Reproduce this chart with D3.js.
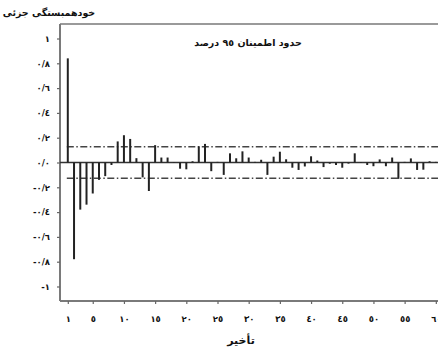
<!DOCTYPE html>
<html>
<head>
<meta charset="utf-8">
<script src="https://cdn.jsdelivr.net/npm/d3@7"></script>
<style>
  html, body { margin: 0; padding: 0; background: #fff; }
  svg { display: block; }
  text { font-family: "DejaVu Sans", "Noto Sans", sans-serif; font-weight: bold; fill: #111; }
</style>
</head>
<body>
<svg id="chart" width="438" height="349"></svg>
<script>
// Partial autocorrelation by lag
const lags = d3.range(1, 61);
const pacf = [
  0.84, -0.78, -0.38, -0.34, -0.25, -0.14, -0.11, -0.02, 0.17, 0.22,
  0.19, 0.035, -0.12, -0.23, 0.14, 0.04, 0.04, 0.003, -0.05, -0.055,
  0.01, 0.13, 0.15, -0.07, 0.005, -0.10, 0.074, 0.034, 0.09, 0.04,
  0.005, 0.022, -0.10, 0.047, 0.087, 0.026, -0.042, -0.06, -0.032, 0.05,
  0.016, -0.037, -0.01, -0.02, -0.042, -0.009, 0.074, 0.004, -0.02, -0.03,
  0.025, -0.03, 0.04, -0.132, 0.005, 0.033, -0.06, -0.058, 0.01, 0.005
];
// 95% confidence limits
const confLimits = [0.127, -0.127];

const yTicks = [1, 0.8, 0.6, 0.4, 0.2, 0, -0.2, -0.4, -0.6, -0.8, -1];
const yTickLabels = ["١", "٠/٨", "٠/٦", "٠/٤", "٠/٢", "٠/٠", "-٠/٢", "-٠/٤", "-٠/٦", "-٠/٨", "-١"];
const xTicks = [1, 5, 10, 15, 20, 25, 30, 35, 40, 45, 50, 55, 60];
const xTickLabels = ["١", "٥", "١٠", "١٥", "٢٠", "٢٥", "٣٠", "٣٥", "٤٠", "٤٥", "٥٠", "٥٥", "٦٠"];

const yTitle = "خودهمبستگی جزئی";
const xTitle = "تأخیر";
const legendTitle = "حدود اطمینان ٩٥ درصد";

const svg = d3.select("#chart");
const plot = { left: 60, right: 438, top: 24, bottom: 301 };

const x = d3.scaleLinear().domain([-0.25, 60.35]).range([plot.left, plot.right]);
const y = d3.scaleLinear().domain([-1.117, 1.117]).range([plot.bottom, plot.top]);

// frame: top border
svg.append("line")
  .attr("x1", plot.left).attr("x2", plot.right)
  .attr("y1", plot.top).attr("y2", plot.top)
  .attr("stroke", "#9a9a9a").attr("stroke-width", 2);

// y axis
const yAxis = svg.append("g")
  .attr("transform", `translate(${plot.left},0)`)
  .call(d3.axisLeft(y).tickValues(yTicks).tickSize(3).tickPadding(7)
    .tickFormat((d, i) => yTickLabels[i]));
yAxis.select(".domain").attr("stroke", "#7a7a7a").attr("stroke-width", 2)
  .attr("d", `M0,${plot.top}V${plot.bottom}`);
yAxis.selectAll(".tick line").attr("stroke", "#666").attr("stroke-width", 1.2);
yAxis.selectAll(".tick text").attr("font-size", 8.5).attr("fill", "#111")
  .attr("font-family", "DejaVu Sans").attr("font-weight", "bold");

// x axis
const xAxis = svg.append("g")
  .attr("transform", `translate(0,${plot.bottom})`)
  .call(d3.axisBottom(x).tickValues(xTicks).tickSize(3).tickPadding(12)
    .tickFormat((d, i) => xTickLabels[i]));
xAxis.select(".domain").attr("stroke", "#7a7a7a").attr("stroke-width", 2)
  .attr("d", `M${plot.left},0H${plot.right}`);
xAxis.selectAll(".tick line").attr("stroke", "#666").attr("stroke-width", 1.2);
xAxis.selectAll(".tick text").attr("font-size", 8.5).attr("fill", "#111")
  .attr("font-family", "DejaVu Sans").attr("font-weight", "bold");

// zero line
svg.append("line")
  .attr("x1", plot.left).attr("x2", plot.right)
  .attr("y1", y(0)).attr("y2", y(0))
  .attr("stroke", "#333").attr("stroke-width", 1.5);

// confidence limits
svg.selectAll("line.conf").data(confLimits).join("line")
  .attr("class", "conf")
  .attr("x1", x(lags[0]) - 1).attr("x2", plot.right)
  .attr("y1", d => y(d)).attr("y2", d => y(d))
  .attr("stroke", "#444").attr("stroke-width", 1.6)
  .attr("stroke-dasharray", "7,2.5,1.5,2.5");

// spikes
svg.selectAll("line.spike").data(lags).join("line")
  .attr("class", "spike")
  .attr("x1", d => x(d)).attr("x2", d => x(d))
  .attr("y1", y(0)).attr("y2", (d, i) => y(pacf[i]))
  .attr("stroke", "#222").attr("stroke-width", 2);

// titles
svg.append("text")
  .attr("x", 49).attr("y", 16).attr("text-anchor", "middle")
  .attr("font-size", 9.5).text(yTitle);

svg.append("text")
  .attr("x", 248).attr("y", 46).attr("text-anchor", "middle")
  .attr("font-size", 9.5).text(legendTitle);

svg.append("text")
  .attr("x", 241).attr("y", 344).attr("text-anchor", "middle")
  .attr("font-size", 11).text(xTitle);
</script>
</body>
</html>
